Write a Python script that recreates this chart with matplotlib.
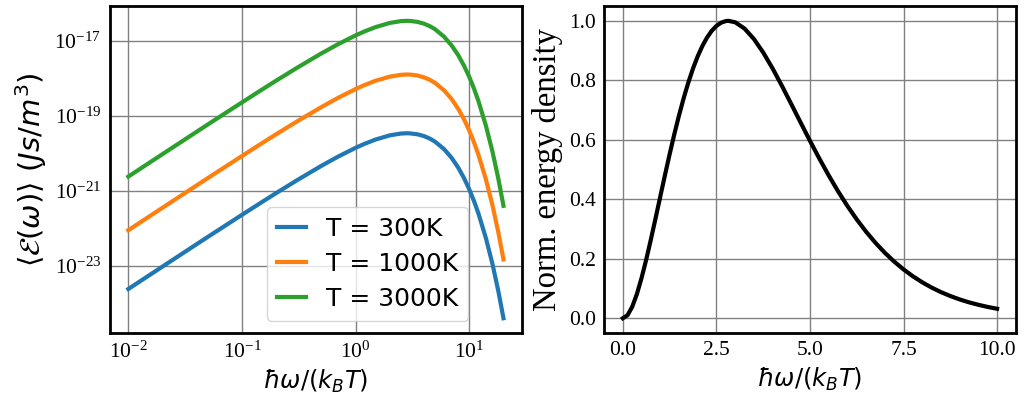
import matplotlib
matplotlib.use("Agg")
import matplotlib.pyplot as plt

plt.rcParams["font.family"] = "Liberation Serif"
plt.rcParams["mathtext.fontset"] = "dejavusans"

# x = hbar*omega/(k_B T)
x_log = [0.01, 0.02, 0.05, 0.1, 0.15, 0.2, 0.3, 0.5, 0.7, 1.0, 1.2, 1.5, 2.0, 2.5,
         2.82, 3.0, 3.5, 4.0, 4.5, 5.0, 6.0, 7.0, 8.0, 9.0, 10.0, 11.0, 12.0, 14.0,
         16.0, 18.0, 20.0]

e_300 = [2.39e-24, 9.5e-24, 5.86e-23, 2.28e-22, 5.01e-22, 8.68e-22, 1.85e-21,
         4.63e-21, 8.13e-21, 1.40e-20, 1.79e-20, 2.33e-20, 3.01e-20, 3.36e-20,
         3.42e-20, 3.40e-20, 3.21e-20, 2.87e-20, 2.46e-20, 2.04e-20, 1.29e-20,
         7.52e-21, 4.13e-21, 2.16e-21, 1.09e-21, 5.34e-22, 2.55e-22, 5.48e-23,
         1.11e-23, 2.13e-24, 3.96e-25]

e_1000 = [8.85e-23, 3.52e-22, 2.17e-21, 8.46e-21, 1.86e-20, 3.22e-20, 6.87e-20,
          1.71e-19, 3.01e-19, 5.18e-19, 6.63e-19, 8.63e-19, 1.11e-18, 1.24e-18,
          1.265e-18, 1.26e-18, 1.19e-18, 1.06e-18, 9.11e-19, 7.55e-19, 4.78e-19,
          2.79e-19, 1.53e-19, 8.01e-20, 4.04e-20, 1.98e-20, 9.45e-21, 2.03e-21,
          4.10e-22, 7.90e-23, 1.47e-23]

e_3000 = [2.39e-21, 9.51e-21, 5.86e-20, 2.28e-19, 5.01e-19, 8.68e-19, 1.85e-18,
          4.63e-18, 8.13e-18, 1.40e-17, 1.79e-17, 2.33e-17, 3.01e-17, 3.36e-17,
          3.42e-17, 3.40e-17, 3.21e-17, 2.87e-17, 2.46e-17, 2.04e-17, 1.29e-17,
          7.52e-18, 4.13e-18, 2.16e-18, 1.09e-18, 5.34e-19, 2.55e-19, 5.48e-20,
          1.11e-20, 2.13e-21, 3.96e-22]

labels = ["T = 300K", "T = 1000K", "T = 3000K"]

# normalised energy density, linear panel
x_lin = [0.0, 0.125, 0.25, 0.375, 0.5, 0.625, 0.75, 0.875, 1.0, 1.125, 1.25,
         1.375, 1.5, 1.625, 1.75, 1.875, 2.0, 2.125, 2.25, 2.375, 2.5, 2.625,
         2.75, 2.82, 3.0, 3.25, 3.5, 3.75, 4.0, 4.25, 4.5, 4.75, 5.0, 5.25, 5.5,
         5.75, 6.0, 6.25, 6.5, 6.75, 7.0, 7.25, 7.5, 7.75, 8.0, 8.25, 8.5, 8.75,
         9.0, 9.25, 9.5, 9.75, 10.0]
norm_e = [0.0, 0.0103, 0.0387, 0.0815, 0.1356, 0.1978, 0.2657, 0.3369, 0.4094,
          0.4815, 0.5518, 0.6189, 0.6820, 0.7402, 0.7930, 0.8400, 0.8809, 0.9156,
          0.9441, 0.9665, 0.9830, 0.9938, 0.9992, 1.0, 0.9952, 0.9742, 0.9392,
          0.8935, 0.8401, 0.7815, 0.7202, 0.6580, 0.5965, 0.5370, 0.4803, 0.4270,
          0.3776, 0.3322, 0.2909, 0.2536, 0.2202, 0.1905, 0.1642, 0.1411, 0.1209,
          0.1032, 0.0879, 0.0747, 0.0633, 0.0535, 0.0452, 0.0380, 0.0319]

fig = plt.figure(figsize=(10.24, 3.98), dpi=100)
ax1 = fig.add_axes([0.107, 0.163, 0.403, 0.822])
ax2 = fig.add_axes([0.590, 0.163, 0.402, 0.822])

for ax in (ax1, ax2):
    ax.grid(True, color="#808080", linewidth=1.0)
    ax.set_axisbelow(True)
    ax.tick_params(length=0, labelsize=15.5, pad=6)
    for s in ax.spines.values():
        s.set_linewidth(2.0)
        s.set_color("black")

ax1.loglog(x_log, e_300, color="#1f77b4", lw=3, label=labels[0])
ax1.loglog(x_log, e_1000, color="#ff7f0e", lw=3, label=labels[1])
ax1.loglog(x_log, e_3000, color="#2ca02c", lw=3, label=labels[2])
ax1.set_yticks([1e-23, 1e-21, 1e-19, 1e-17])
ax1.minorticks_off()
ax1.set_xlabel(r"$\hbar\omega/(k_BT)$", fontsize=17.5)
ax1.set_ylabel(r"$\langle\mathcal{E}(\omega)\rangle\ (Js/m^3)$", fontsize=21)
ax1.legend(loc="lower right", bbox_to_anchor=(0.869, 0.037), borderaxespad=0,
           handlelength=1.15, handletextpad=0.8, labelspacing=0.45,
           prop={"family": "DejaVu Sans", "size": 18})

ax2.plot(x_lin, norm_e, color="black", lw=3)
ax2.set_yticks([0.0, 0.2, 0.4, 0.6, 0.8, 1.0])
ax2.set_xticks([0.0, 2.5, 5.0, 7.5, 10.0])
ax2.set_xlabel(r"$\hbar\omega/(k_BT)$", fontsize=17.5)
ax2.set_ylabel("Norm. energy density", fontsize=23.5)

fig.savefig("out.png", dpi=100)
